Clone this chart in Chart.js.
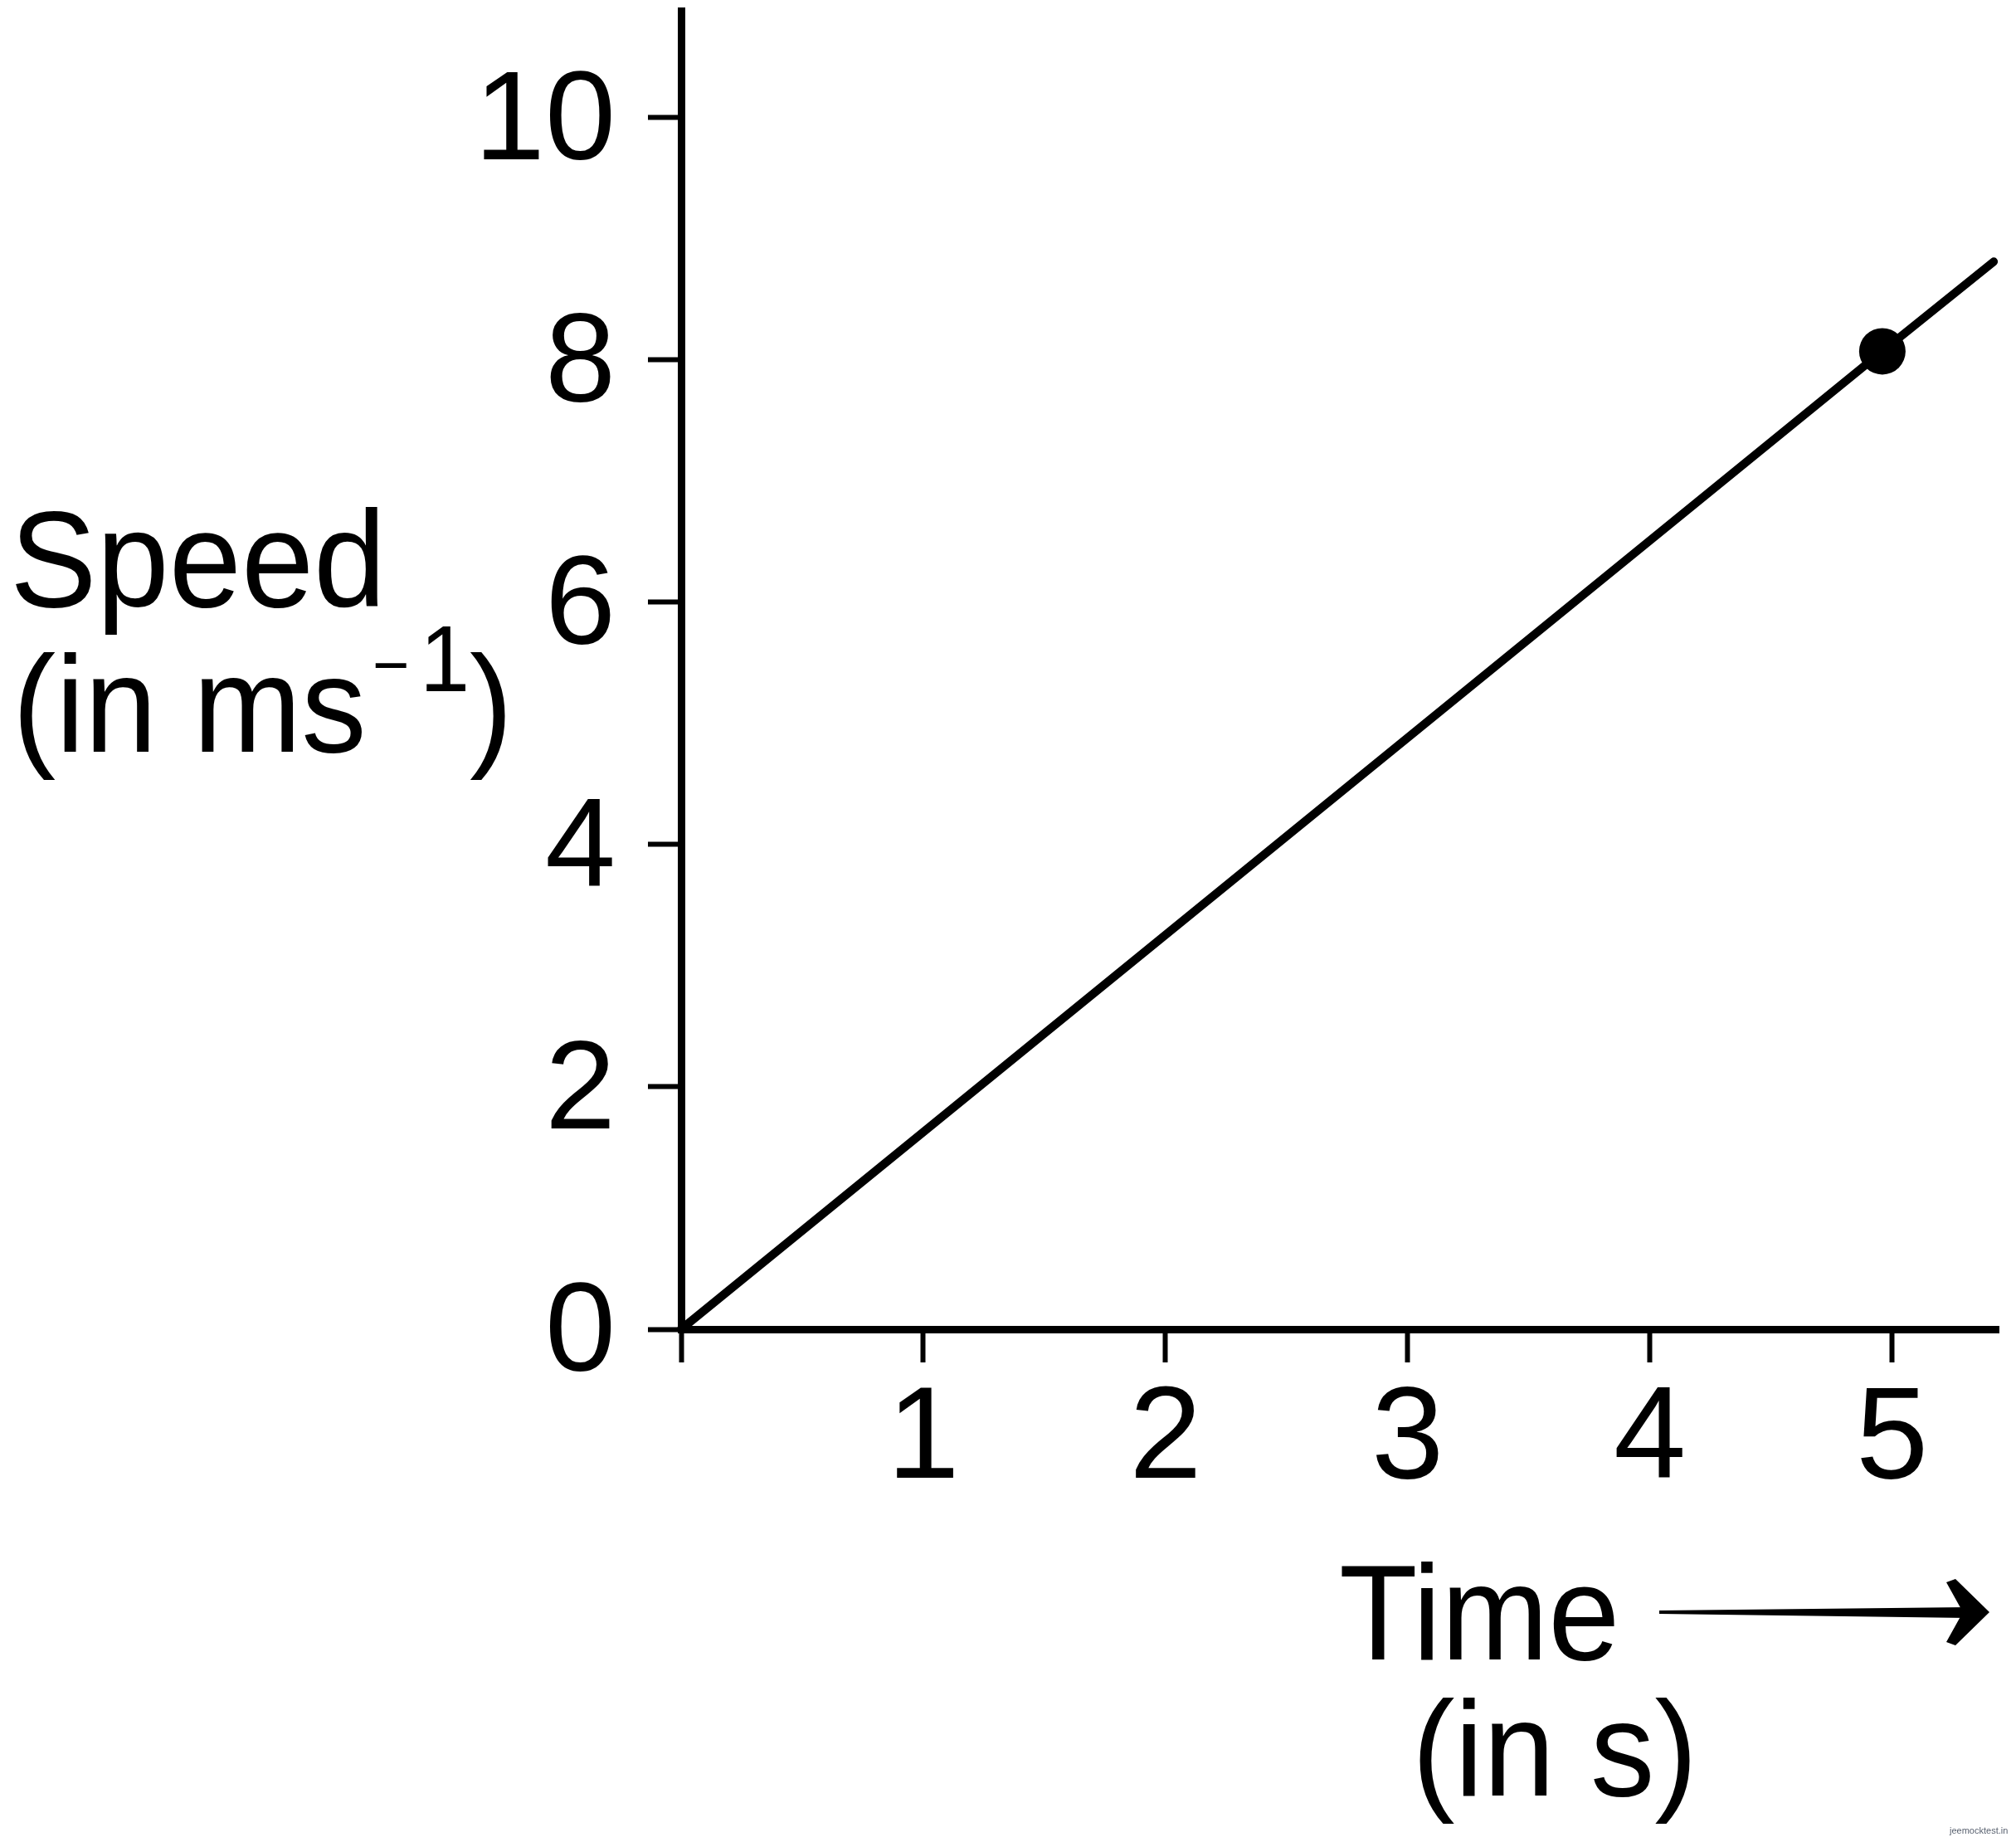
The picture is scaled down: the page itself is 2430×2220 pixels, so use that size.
<!DOCTYPE html>
<html>
<head>
<meta charset="utf-8">
<script src="https://cdn.jsdelivr.net/npm/chart.js@4.4.1/dist/chart.umd.min.js"></script>
<style>
  html, body { margin: 0; padding: 0; background: #fff; }
  canvas { display: block; }
</style>
</head>
<body>
<canvas id="chart" width="2430" height="2220"></canvas>
<script>
// speed-time graph, values
const timeValues = [0, 4.96, 5.42];
const speedValues = [0, 8.07, 8.81];
const markedPoint = [false, true, false];

const xTickLabels = ['', '1', '2', '3', '4', '5'];
const yTickLabels = ['0', '2', '4', '6', '8', '10'];

const xTitleLines = ['Time', '(in s)'];
const yTitleLines = ['Speed', '(in ms', '\u2212', '1', ')'];

const FONT = "'Liberation Sans', Arial, Helvetica, sans-serif";

// text drawn slightly narrower, the source lettering is a bit condensed
function squeezedText(ctx, str, x, y, size) {
  ctx.save();
  ctx.font = size + 'px ' + FONT;
  ctx.translate(x, y);
  ctx.scale(0.95, 1);
  ctx.fillText(str, 0, 0);
  ctx.restore();
}

// keep the plot box where the picture has it: no extra room for edge labels
function noEdgePadding(s) {
  s.paddingTop = 0;
  s.paddingBottom = 0;
  s.paddingLeft = 0;
  s.paddingRight = 0;
}

const titlesPlugin = {
  id: 'titles',
  afterDraw(chart) {
    const ctx = chart.ctx;
    ctx.save();
    ctx.fillStyle = '#000';
    ctx.textAlign = 'left';
    ctx.textBaseline = 'alphabetic';

    // y title, horizontal on the left
    squeezedText(ctx, yTitleLines[0], 12, 731, 165);
    squeezedText(ctx, yTitleLines[1], 15, 906, 165);
    squeezedText(ctx, yTitleLines[2], 449, 829, 80);
    squeezedText(ctx, yTitleLines[3], 506, 833, 114);
    squeezedText(ctx, yTitleLines[4], 566, 906, 165);

    // x title under the axis
    squeezedText(ctx, xTitleLines[0], 1614, 2000, 163);
    squeezedText(ctx, xTitleLines[1], 1702, 2164, 163);

    // arrow after "Time"
    ctx.beginPath();
    ctx.moveTo(2000, 1941);
    ctx.lineTo(2372, 1937);
    ctx.lineTo(2372, 1950);
    ctx.lineTo(2000, 1945);
    ctx.closePath();
    ctx.fill();
    ctx.beginPath();
    ctx.moveTo(2398, 1943);
    ctx.lineTo(2357, 1903);
    ctx.lineTo(2346, 1907);
    ctx.lineTo(2366, 1943);
    ctx.lineTo(2346, 1979);
    ctx.lineTo(2357, 1983);
    ctx.closePath();
    ctx.fill();

    // site mark bottom right
    ctx.font = '11px ' + FONT;
    ctx.fillStyle = '#5a6270';
    ctx.fillText('jeemocktest.in', 2350, 2210);
    ctx.restore();
  }
};

const ctx = document.getElementById('chart').getContext('2d');
new Chart(ctx, {
  type: 'line',
  data: {
    datasets: [{
      data: timeValues.map((t, i) => ({ x: t, y: speedValues[i] })),
      borderColor: '#000',
      borderWidth: 10,
      borderCapStyle: 'round',
      tension: 0,
      pointRadius: markedPoint.map(m => (m ? 28 : 0)),
      pointBackgroundColor: '#000',
      pointBorderWidth: 0,
      clip: false,
    }],
  },
  options: {
    responsive: false,
    animation: false,
    layout: { padding: { top: 13, right: 21, left: 0, bottom: 0 } },
    plugins: {
      legend: { display: false },
      tooltip: { enabled: false },
    },
    scales: {
      x: {
        type: 'linear',
        min: 0,
        max: 5.44,
        afterFit: s => { noEdgePadding(s); s.height = 618; },
        grid: { drawOnChartArea: false, tickLength: 40, tickWidth: 6, tickColor: '#000' },
        border: { color: '#000', width: 9 },
        ticks: {
          stepSize: 1,
          includeBounds: false,
          autoSkip: false,
          maxRotation: 0,
          color: '#000',
          padding: 2,
          font: { family: FONT, size: 157 },
          callback: v => xTickLabels[v] ?? '',
        },
      },
      y: {
        type: 'linear',
        min: 0,
        max: 10.88,
        afterFit: s => { noEdgePadding(s); s.width = 821; },
        grid: { drawOnChartArea: false, tickLength: 40, tickWidth: 6, tickColor: '#000' },
        border: { color: '#000', width: 9 },
        ticks: {
          stepSize: 2,
          includeBounds: false,
          autoSkip: false,
          color: '#000',
          padding: 39,
          labelOffset: 8,
          font: { family: FONT, size: 153 },
          callback: v => yTickLabels[v / 2] ?? '',
        },
      },
    },
  },
  plugins: [titlesPlugin],
});
</script>
</body>
</html>
